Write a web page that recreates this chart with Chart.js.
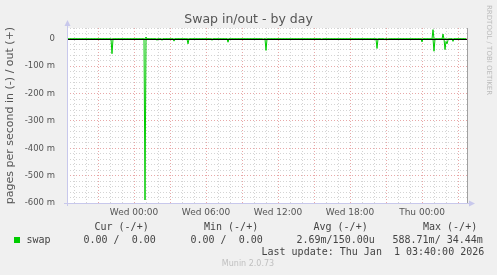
<!DOCTYPE html>
<html>
<head>
  <title>Swap in/out - by day</title>
  <script src="https://cdn.jsdelivr.net/npm/chart.js"></script>
  <style>
    body {
      margin: 0;
      background: #f0f0f0;
    }
    canvas {
      display: block;
    }
  </style>
</head>
<body>
  <canvas id="chartCanvas" width="497" height="275"></canvas>

  <script>
    // times are minutes relative to Wed 00:00, values in milli-pages per second
    const inMinutes = [-335, -115, -110, -105, 50, 55, 60, 110, 115, 120, 135, 140, 145,
      195, 200, 205, 265, 270, 275, 385, 390, 395, 465, 470, 475, 640, 645, 650, 655, 660, 665,
      935, 940, 945, 1210, 1215, 1220, 1250, 1255, 1260, 1265, 1270, 1275, 1435, 1440, 1445,
      1495, 1500, 1505, 1550, 1555, 1560, 1565, 1570, 1575, 1590, 1595, 1600, 1660];
    const inValues = [0, 0, -54, 0, 0, -589, 0, 0, -5, 0, 0, -5, 0,
      0, -8, 0, 0, -18, 0, 0, -5, 0, 0, -12, 0, 0, -4, 0, 0, -42, 0,
      0, -4, 0, 0, -35, 0, 0, -4, 0, 0, -4, 0, 0, -11, 0,
      0, -45, 0, 0, -39, -9, -18, -5, 0, 0, -9, 0, 0];

    const outMinutes = [-335, 55, 60, 65, 1490, 1495, 1500, 1540, 1545, 1550, 1660];
    const outValues = [0, 0, 7, 0, 0, 34, 0, 0, 18, 0, 0];

    const xTickMinutes = [0, 360, 720, 1080, 1440];
    const xTickLabels = ['Wed 00:00', 'Wed 06:00', 'Wed 12:00', 'Wed 18:00', 'Thu 00:00'];

    const legendHeaders = ['Cur (-/+)', 'Min (-/+)', 'Avg (-/+)', 'Max (-/+)'];
    const legendValues = ['0.00 /  0.00', '0.00 /  0.00', '2.69m/150.00u', '588.71m/ 34.44m'];
    const lastUpdate = 'Last update: Thu Jan  1 03:40:00 2026';

    const green = '#00cc00';

    const bgPlugin = {
      id: 'bg',
      beforeDraw(chart) {
        const ctx = chart.ctx;
        const a = chart.chartArea;
        ctx.save();
        ctx.fillStyle = '#f0f0f0';
        ctx.fillRect(0, 0, chart.width, chart.height);
        ctx.fillStyle = '#ffffff';
        ctx.fillRect(a.left, a.top, a.right - a.left, a.bottom - a.top);
        ctx.restore();
      }
    };

    const overlayPlugin = {
      id: 'overlay',
      afterDatasetsDraw(chart) {
        const ctx = chart.ctx;
        const a = chart.chartArea;
        const y0 = Math.round(chart.scales.y.getPixelForValue(0)) + 0.5;
        ctx.save();
        // zero rule
        ctx.strokeStyle = '#000000';
        ctx.lineWidth = 1;
        ctx.beginPath();
        ctx.moveTo(a.left, y0);
        ctx.lineTo(a.right, y0);
        ctx.stroke();

        // right edge
        ctx.strokeStyle = '#a0a0a0';
        ctx.beginPath();
        ctx.moveTo(a.right + 0.5, a.top);
        ctx.lineTo(a.right + 0.5, a.bottom);
        ctx.stroke();

        // axes with arrows
        ctx.strokeStyle = '#c8c8ec';
        ctx.fillStyle = '#c8c8ec';
        ctx.beginPath();
        ctx.moveTo(a.left + 0.5, a.bottom + 3);
        ctx.lineTo(a.left + 0.5, a.top - 4);
        ctx.moveTo(a.left - 3, a.bottom + 0.5);
        ctx.lineTo(a.right + 4, a.bottom + 0.5);
        ctx.stroke();
        ctx.beginPath();
        ctx.moveTo(a.left + 0.5, a.top - 8);
        ctx.lineTo(a.left - 2.5, a.top - 2);
        ctx.lineTo(a.left + 3.5, a.top - 2);
        ctx.closePath();
        ctx.fill();
        ctx.beginPath();
        ctx.moveTo(a.right + 8, a.bottom + 0.5);
        ctx.lineTo(a.right + 2, a.bottom - 2.5);
        ctx.lineTo(a.right + 2, a.bottom + 3.5);
        ctx.closePath();
        ctx.fill();
        ctx.restore();
      },
      afterDraw(chart) {
        const ctx = chart.ctx;
        ctx.save();
        ctx.textBaseline = 'middle';

        // title
        ctx.fillStyle = '#555555';
        ctx.font = '12.5px "DejaVu Sans"';
        ctx.textAlign = 'center';
        ctx.fillText('Swap in/out - by day', 248.5, 19.5);

        // rrdtool credit
        ctx.save();
        ctx.translate(489, 5);
        ctx.rotate(Math.PI / 2);
        ctx.textAlign = 'left';
        ctx.fillStyle = '#bbbbbb';
        ctx.font = '7px "DejaVu Sans"';
        ctx.fillText('RRDTOOL / TOBI OETIKER', 0, 0);
        ctx.restore();

        // legend
        ctx.textAlign = 'left';
        ctx.fillStyle = '#444444';
        ctx.font = '10px "DejaVu Sans Mono"';
        const headerX = [94.5, 204, 313.5, 423];
        const valueX = [83.5, 190.5, 296.5, 392.5];
        legendHeaders.forEach((t, i) => ctx.fillText(t, headerX[i], 227.5));
        legendValues.forEach((t, i) => ctx.fillText(t, valueX[i], 240));
        ctx.fillText('swap', 26.5, 240);
        ctx.fillText(lastUpdate, 261.5, 252);

        ctx.fillStyle = green;
        ctx.fillRect(14, 237, 6, 6);

        ctx.fillStyle = '#c0c0c0';
        ctx.font = '8px "DejaVu Sans"';
        ctx.textAlign = 'center';
        ctx.fillText('Munin 2.0.73', 248, 264);
        ctx.restore();
      }
    };

    const ctx = document.getElementById('chartCanvas').getContext('2d');
    new Chart(ctx, {
      type: 'line',
      data: {
        datasets: [
          {
            label: 'swap in',
            data: inMinutes.map((m, i) => ({ x: m, y: inValues[i] })),
            borderColor: green,
            borderWidth: 1,
            pointRadius: 0,
            tension: 0,
            fill: false
          },
          {
            label: 'swap out',
            data: outMinutes.map((m, i) => ({ x: m, y: outValues[i] })),
            borderColor: green,
            borderWidth: 1,
            pointRadius: 0,
            tension: 0,
            fill: false
          }
        ]
      },
      options: {
        responsive: false,
        devicePixelRatio: 1,
        animation: false,
        layout: {
          padding: { top: 28, right: 30, left: 0, bottom: 0 }
        },
        plugins: {
          legend: { display: false },
          title: { display: false },
          tooltip: { enabled: false }
        },
        scales: {
          x: {
            type: 'linear',
            min: -335,
            max: 1665,
            afterBuildTicks(scale) {
              const ticks = [];
              for (let m = -300; m <= 1620; m += 60) ticks.push({ value: m });
              scale.ticks = ticks;
            },
            afterFit(scale) {
              scale.height = 72;
            },
            grid: {
              drawTicks: false,
              lineWidth: 1,
              color: c => (c.tick && c.tick.value % 180 === 0) ? '#e8a8a8' : '#d4d4d4'
            },
            border: { display: false, dash: [1, 2] },
            ticks: {
              autoSkip: false,
              maxRotation: 0,
              padding: 4,
              color: '#555555',
              font: { family: 'DejaVu Sans', size: 9 },
              callback: v => {
                const i = xTickMinutes.indexOf(v);
                return i >= 0 ? xTickLabels[i] : '';
              }
            }
          },
          y: {
            min: -600,
            max: 40,
            afterBuildTicks(scale) {
              const ticks = [];
              for (let v = -600; v <= 40; v += 20) ticks.push({ value: v });
              scale.ticks = ticks;
            },
            afterFit(scale) {
              scale.width = 67;
            },
            grid: {
              drawTicks: false,
              lineWidth: 1,
              color: c => (c.tick && c.tick.value % 100 === 0) ? '#e8a8a8' : '#d4d4d4'
            },
            border: { display: false, dash: [1, 2] },
            ticks: {
              autoSkip: false,
              padding: 12,
              color: '#555555',
              font: { family: 'DejaVu Sans', size: 8.5 },
              callback: v => {
                if (v % 100 !== 0) return '';
                return v === 0 ? '0' : v + ' m';
              }
            },
            title: {
              display: true,
              text: 'pages per second in (-) / out (+)',
              color: '#555555',
              font: { family: 'DejaVu Sans', size: 11 },
              padding: { top: 4, bottom: 0 }
            }
          }
        }
      },
      plugins: [bgPlugin, overlayPlugin]
    });
  </script>
</body>
</html>
